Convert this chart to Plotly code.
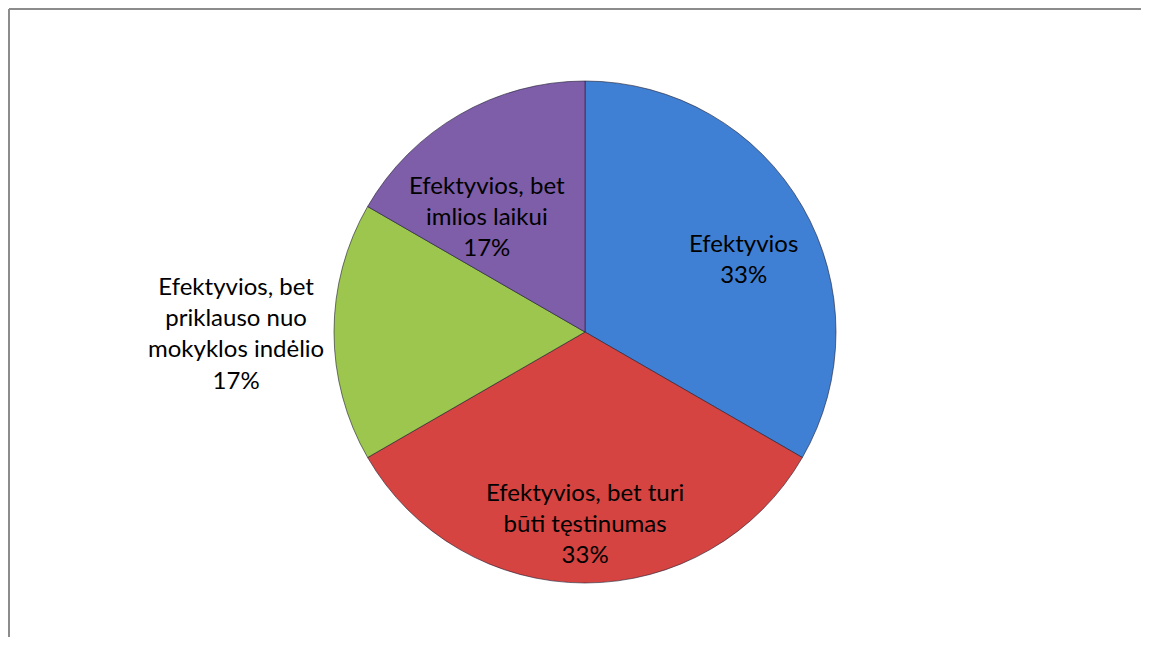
import math
import plotly.graph_objects as go

labels = ["Efektyvios", "Efektyvios, bet turi<br>būti tęstinumas",
          "Efektyvios, bet<br>priklauso nuo<br>mokyklos indėlio",
          "Efektyvios, bet<br>imlios laikui"]
values = [2, 2, 1, 1]
pct_text = ["33%", "33%", "17%", "17%"]
colors = ["#4080D4", "#D64441", "#9DC64E", "#7E5DA9"]

# style: label placement (fraction of radius, angular nudge in degrees)
label_radius = [0.695, 0.757, 1.39, 0.605]
label_nudge = [5, 0, 0, -10]

OFF = 8  # browser body margin
W, H = 1149 - 2 * OFF, 645 - 2 * OFF
cx, cy, R = 585 - OFF, 332 - OFF, 251

fig = go.Figure()
fig.add_trace(go.Pie(
    labels=[l.replace("<br>", " ") for l in labels], values=values,
    sort=False, direction="clockwise", rotation=0,
    textinfo="none", hoverinfo="label+percent",
    marker=dict(colors=colors, line=dict(color="rgba(30,30,50,0.6)", width=1)),
    domain=dict(x=[(cx - R) / W, (cx + R) / W], y=[(H - cy - R) / H, (H - cy + R) / H]),
    showlegend=False,
))

total = sum(values)
cum = 0
annotations = []
for lab, v, pt, rf, nd in zip(labels, values, pct_text, label_radius, label_nudge):
    mid = (cum + v / 2) / total * 2 * math.pi + math.radians(nd)
    cum += v
    px = cx + rf * R * math.sin(mid)
    py = cy - rf * R * math.cos(mid)
    annotations.append(dict(
        x=px / W, y=1 - py / H, xref="paper", yref="paper",
        text=f"{lab}<br>{pt}", showarrow=False, align="center",
        xanchor="center", yanchor="middle",
        font=dict(family="Lato", size=24, color="#000000"),
    ))

frame = dict(color="#8C8C8C", width=2)
fig.update_layout(
    width=W, height=H,
    margin=dict(l=0, r=0, t=0, b=0),
    paper_bgcolor="white", plot_bgcolor="white",
    annotations=annotations,
    shapes=[
        dict(type="line", xref="paper", yref="paper", x0=1 / W, x1=1.0,
             y0=1 - 1 / H, y1=1 - 1 / H, line=frame),
        dict(type="line", xref="paper", yref="paper", x0=1 / W, x1=1 / W,
             y0=0.0, y1=1 - 1 / H, line=frame),
    ],
)

fig.write_html("out.html")
